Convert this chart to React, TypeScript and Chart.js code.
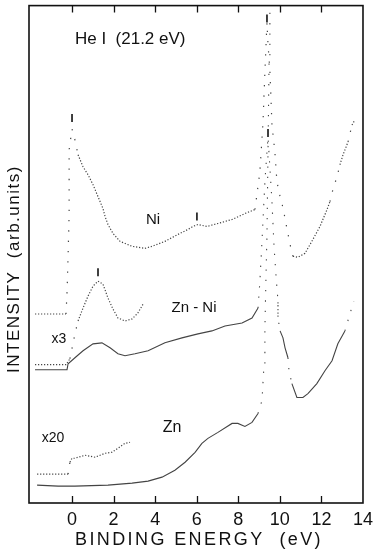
import React, { useEffect, useRef } from "react";
import { Chart, registerables } from "chart.js";

Chart.register(...registerables);

// Binding energy (eV) / intensity (arb. units) pairs
const NI: [number, number][] = [
  [-1.78, 38], [-0.29, 38], [-0.24, 42.2], [-0.19, 49.6], [-0.14, 58], [-0.14, 64.6], [-0.14, 71], [0, 75.2],
  [0.14, 73], [0.29, 70], [0.53, 67.6], [0.77, 66], [1.01, 64], [1.25, 61.6], [1.49, 59.2], [1.59, 57.6],
  [1.73, 56], [1.97, 54.2], [2.31, 52.6], [2.89, 51.6], [3.51, 51.2], [3.85, 51.6], [4.47, 52.6], [5.1, 54],
  [5.58, 55], [5.82, 55.6], [6.06, 56], [6.49, 55.6], [7.02, 56.2], [7.7, 57], [8.32, 58.2], [8.8, 59],
  [9.04, 66.6], [9.19, 76.6], [9.28, 86.6], [9.38, 96.6], [9.43, 92.2], [9.52, 87], [9.57, 81.6], [9.62, 76],
  [9.76, 70.6], [9.86, 64.6], [10.01, 61.6], [10.15, 59.4], [10.34, 55.2], [10.49, 52], [10.63, 49.6],
  [10.87, 49.4], [11.21, 50.2], [11.54, 52.6], [11.93, 55.6], [12.27, 59], [12.41, 60.6], [12.55, 63],
  [12.75, 65.6], [12.89, 68], [13.04, 70], [13.28, 72.6], [13.47, 76], [13.61, 77],
];

const ZNNI_X3: [number, number][] = [
  [-1.78, 27.8], [-0.29, 27.8], [-0.1, 29], [0.14, 34], [0.29, 36.6], [0.53, 39.2], [0.77, 41.6], [1.01, 43.6],
  [1.25, 44.6], [1.49, 44], [1.73, 41.2], [1.97, 39], [2.21, 37.2], [2.55, 36.6], [2.89, 37], [3.17, 38.2], [3.42, 40],
];

const ZNNI: [number, number][] = [
  [-1.78, 26.8], [-0.24, 26.8], [-0.19, 28], [0.14, 29.2], [0.53, 30.6], [1.01, 32], [1.44, 32.2], [1.83, 31.2],
  [2.21, 30], [2.55, 29.6], [3.03, 30], [3.66, 30.6], [4.47, 32.2], [5.29, 33.2], [6.06, 34], [6.73, 34.6],
  [7.36, 35.6], [8.18, 36.2], [8.66, 37.2], [8.95, 39.2], [9.04, 44.6], [9.14, 52.6], [9.28, 64.6], [9.43, 73.6],
  [9.62, 60.6], [9.72, 51.6], [9.81, 46], [9.91, 40.6], [9.91, 37.2], [10.01, 34.6], [10.15, 33.2], [10.25, 31.2],
  [10.39, 29.2], [10.44, 26.6], [10.58, 24], [10.82, 21.2], [11.11, 21.2], [11.35, 22], [11.78, 24], [12.17, 26.6],
  [12.51, 28.6], [12.79, 32], [13.13, 34.6], [13.37, 38], [13.56, 40.6],
];

const ZN_X20: [number, number][] = [
  [-1.68, 5.8], [-0.19, 5.8], [-0.1, 8.2], [0, 9], [0.14, 9], [0.63, 9.6], [1.11, 9.2], [1.59, 10],
  [1.92, 10.2], [2.21, 11], [2.55, 12], [2.79, 12.2],
];

const ZN: [number, number][] = [
  [-1.68, 3.6], [-0.67, 3.4], [0.14, 3.4], [1.73, 3.6], [2.89, 4], [3.66, 4.4], [4.33, 5.2], [4.95, 6.6],
  [5.44, 8.2], [5.92, 10.2], [6.25, 12], [6.54, 13], [7.02, 14.2], [7.7, 16], [7.98, 16], [8.32, 15.4],
  [8.66, 16.2], [8.95, 18], [9.14, 20.6], [9.24, 28], [9.28, 35], [9.33, 45], [9.38, 54], [9.43, 70.6],
  [9.48, 88.6], [9.52, 100],
];

// Feature markers ("I" ticks above the spectra)
const MARKERS: [number, number][] = [
  [0, 77.4], [6.01, 57.6], [1.25, 46.4], [9.38, 97.4], [9.43, 74.4],
];

const X_TICKS = [0, 2, 4, 6, 8, 10, 12, 14];
const X_MIN = -2.07;
const X_MAX = 14;
const Y_MIN = 0;
const Y_MAX = 100;

const LABELS: { text: string; x: number; y: number; size: number; align: CanvasTextAlign }[] = [
  { text: "He I  (21.2 eV)", x: 0.14, y: 93.2, size: 17, align: "left" },
  { text: "Ni", x: 3.9, y: 57, size: 15, align: "center" },
  { text: "Zn - Ni", x: 5.87, y: 39.2, size: 15, align: "center" },
  { text: "x3", x: -0.63, y: 33, size: 14, align: "center" },
  { text: "x20", x: -0.91, y: 13, size: 14, align: "center" },
  { text: "Zn", x: 4.81, y: 15.2, size: 16, align: "center" },
];

const FONT = "'Liberation Sans', Arial, sans-serif";
const INK = "#111";
const CURVE = "#444";

const toXY = (arr: [number, number][]) => arr.map(([x, y]) => ({ x, y }));

const steep = (ctx: any) => {
  const dx = Math.abs(ctx.p1.x - ctx.p0.x);
  const dy = Math.abs(ctx.p1.y - ctx.p0.y);
  return dy > 10 && dy > 3 * dx;
};

function lineSet(data: [number, number][], dotted: boolean) {
  const base = dotted ? [1.2, 1.8] : [];
  return {
    type: "scatter" as const,
    data: toXY(data),
    showLine: true,
    borderColor: CURVE,
    borderWidth: dotted ? 1.2 : 1.1,
    pointRadius: 0,
    borderDash: base,
    segment: {
      borderDash: (ctx: any) => (steep(ctx) ? [1.3, 9] : base),
    },
  };
}

const framePlugin = {
  id: "frameAndText",
  afterDatasetsDraw(chart: any) {
    const { ctx, chartArea, scales } = chart;
    const { left, right, top, bottom } = chartArea;
    const xs = scales.x;
    const ys = scales.y;
    ctx.save();
    ctx.strokeStyle = INK;
    ctx.lineWidth = 1.6;
    ctx.strokeRect(left, top, right - left, bottom - top);
    ctx.lineWidth = 1.3;
    X_TICKS.forEach((v) => {
      if (v >= X_MAX) return;
      const px = Math.round(xs.getPixelForValue(v)) + 0.5;
      ctx.beginPath();
      ctx.moveTo(px, bottom);
      ctx.lineTo(px, bottom - 7);
      ctx.moveTo(px, top);
      ctx.lineTo(px, top + 7);
      ctx.stroke();
    });
    ctx.fillStyle = INK;
    ctx.textBaseline = "middle";
    LABELS.forEach((l) => {
      ctx.font = `${l.size}px ${FONT}`;
      ctx.textAlign = l.align;
      ctx.fillText(l.text, xs.getPixelForValue(l.x), ys.getPixelForValue(l.y));
    });
    // axis titles
    ctx.font = `18px ${FONT}`;
    (ctx as any).letterSpacing = "2.4px";
    ctx.textAlign = "center";
    ctx.fillText("BINDING ENERGY  (eV)", (left + right) / 2 + 3, 540);
    ctx.font = `17px ${FONT}`;
    (ctx as any).letterSpacing = "1.5px";
    ctx.translate(14, 269);
    ctx.rotate(-Math.PI / 2);
    ctx.fillText("INTENSITY  (arb.units)", 0, 0);
    ctx.restore();
  },
};

export default function App() {
  const ref = useRef<HTMLCanvasElement | null>(null);
  useEffect(() => {
    document.body.style.margin = "0";
    if (!ref.current) return;
    const chart = new Chart(ref.current, {
      type: "scatter",
      data: {
        datasets: [
          lineSet(ZN, false),
          lineSet(ZN_X20, true),
          lineSet(ZNNI, false),
          lineSet(ZNNI_X3, true),
          lineSet(NI, true),
          {
            type: "scatter",
            data: toXY(MARKERS),
            pointStyle: "line",
            rotation: 90,
            pointRadius: 4,
            borderWidth: 1.6,
            borderColor: INK,
            backgroundColor: INK,
          } as any,
        ],
      },
      options: {
        animation: false,
        responsive: false,
        devicePixelRatio: 1,
        layout: { padding: { left: 29, right: 16, top: 3, bottom: 0 } },
        plugins: { legend: { display: false }, tooltip: { enabled: false } },
        scales: {
          x: {
            type: "linear",
            min: X_MIN,
            max: X_MAX,
            grid: { display: false, drawTicks: false },
            border: { display: false },
            ticks: {
              stepSize: 2,
              autoSkip: false,
              maxRotation: 0,
              padding: 6,
              color: INK,
              font: { family: FONT, size: 18 },
              callback: (v: any) => (X_TICKS.includes(Number(v)) ? String(v) : ""),
            },
            afterFit: (s: any) => {
              s.height = 50;
            },
          },
          y: {
            type: "linear",
            display: false,
            min: Y_MIN,
            max: Y_MAX,
          },
        },
      },
      plugins: [framePlugin],
    } as any);
    return () => chart.destroy();
  }, []);
  return (
    <canvas
      ref={ref}
      width={379}
      height={553}
      style={{ display: "block", width: 379, height: 553 }}
    />
  );
}
